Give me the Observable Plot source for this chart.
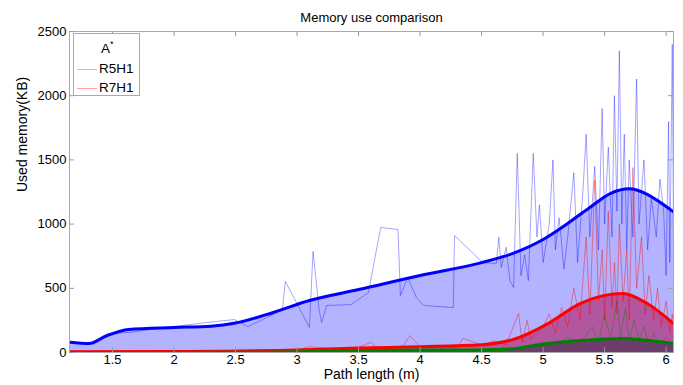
<!DOCTYPE html>
<html>
<head>
<meta charset="utf-8">
<script src="https://cdn.jsdelivr.net/npm/d3@7"></script>
<script src="https://cdn.jsdelivr.net/npm/@observablehq/plot@0.6"></script>
<style>
  html, body { margin: 0; padding: 0; background: white; }
  #wrap { position: relative; width: 683px; height: 385px; font-family: "Liberation Sans", Arial, sans-serif; }
  #legend { position: absolute; left: 73px; top: 33px; width: 65px; height: 61px; border: 1px solid #aaa; background: white; font-size: 13.5px; }
  .lg { position: absolute; left: 0; width: 100%; height: 18px; }
  .lg .sw { position: absolute; left: 3px; top: 9px; width: 20px; height: 0; border-top: 1px solid; }
  .lg .tx { position: absolute; left: 25px; top: 0; line-height: 18px; }
</style>
</head>
<body>
<div id="wrap">
  <div id="chart"></div>
  <div id="legend">
    <div class="lg" style="top:6px"><span class="tx" style="left:27px">A<sup style="font-size:9px;vertical-align:6px;line-height:0">*</sup></span></div>
    <div class="lg" style="top:26px"><span class="sw" style="border-color:#9fd89f"></span><span class="tx">R5H1</span></div>
    <div class="lg" style="top:45px"><span class="sw" style="border-color:#ff9f9f"></span><span class="tx">R7H1</span></div>
  </div>
</div>
<script>
const xTicks = [1.5, 2, 2.5, 3, 3.5, 4, 4.5, 5, 5.5, 6];
const yTicks = [0, 500, 1000, 1500, 2000, 2500];

// Smoothed curves (thick lines + filled areas)
const aStarSmoothX = [1.15, 1.31, 1.45, 1.63, 2.0, 2.3, 2.5, 2.8, 3.1, 3.5, 4.0, 4.5, 4.75, 5.0, 5.14, 5.38, 5.55, 5.7, 5.85, 5.95, 6.06];
const aStarSmoothY = [80, 70, 130, 180, 195, 205, 230, 310, 405, 490, 600, 700, 770, 880, 965, 1130, 1240, 1275, 1230, 1170, 1095];
const r7SmoothX = [1.15, 2.0, 3.0, 3.5, 4.0, 4.5, 4.77, 5.04, 5.3, 5.5, 5.65, 5.84, 6.06];
const r7SmoothY = [5, 8, 20, 35, 45, 60, 105, 225, 380, 445, 460, 385, 225];
const r5SmoothX = [1.15, 2.5, 3.0, 3.5, 4.0, 4.5, 4.77, 5.04, 5.3, 5.5, 5.65, 5.84, 6.06];
const r5SmoothY = [0, 2, 5, 15, 20, 20, 30, 70, 93, 105, 110, 95, 70];

// Raw measurements (thin lines)
const aStarRawX = [1.15, 1.31, 1.46, 1.63, 1.9, 2.27, 2.49, 2.6, 2.75, 2.88, 2.905, 3.0, 3.1, 3.13, 3.18, 3.2, 3.24, 3.35, 3.44, 3.58, 3.68, 3.82, 3.84, 3.9, 3.97, 4.03, 4.27, 4.28, 4.51, 4.62, 4.64, 4.66, 4.7, 4.73, 4.76, 4.79, 4.82, 4.85, 4.88, 4.92, 4.95, 4.97, 5.0, 5.05, 5.08, 5.1, 5.13, 5.17, 5.2, 5.25, 5.28, 5.32, 5.35, 5.38, 5.42, 5.45, 5.48, 5.5, 5.53, 5.56, 5.58, 5.6, 5.62, 5.64, 5.66, 5.68, 5.7, 5.73, 5.76, 5.78, 5.82, 5.85, 5.88, 5.92, 5.95, 5.98, 6.0, 6.02, 6.03, 6.05, 6.06];
const aStarRawY = [80, 70, 148, 156, 190, 234, 257, 202, 270, 330, 553, 380, 195, 787, 327, 234, 366, 370, 374, 467, 974, 958, 444, 584, 428, 366, 350, 911, 700, 693, 896, 662, 820, 560, 506, 1550, 600, 760, 560, 1550, 900, 1150, 700, 1000, 1500, 800, 1050, 650, 900, 1400, 700, 1200, 1700, 900, 1450, 800, 1900, 1000, 1600, 900, 2000, 1100, 2350, 1000, 1700, 800, 1500, 900, 2130, 1000, 1500, 800, 1200, 900, 1350, 1100, 600, 1800, 700, 2400, 900];
const r7RawX = [1.15, 1.5, 2.0, 2.5, 3.0, 3.1, 3.3, 3.5, 3.6, 3.65, 3.85, 3.92, 4.0, 4.3, 4.35, 4.5, 4.6, 4.7, 4.8, 4.83, 4.87, 4.9, 5.0, 5.05, 5.1, 5.15, 5.2, 5.25, 5.3, 5.35, 5.38, 5.42, 5.45, 5.48, 5.5, 5.53, 5.56, 5.58, 5.6, 5.62, 5.65, 5.68, 5.7, 5.73, 5.76, 5.8, 5.83, 5.86, 5.9, 5.93, 5.96, 6.0, 6.03, 6.05, 6.06];
const r7RawY = [5, 15, 8, 15, 20, 45, 30, 40, 80, 35, 40, 132, 40, 40, 110, 60, 90, 60, 304, 80, 250, 100, 200, 300, 150, 350, 200, 500, 250, 900, 300, 1340, 400, 800, 250, 1100, 350, 700, 300, 1000, 400, 800, 250, 1440, 500, 900, 300, 600, 250, 500, 200, 400, 150, 300, 200];
const r5RawX = [1.15, 1.8, 1.87, 1.95, 3.0, 3.5, 4.0, 4.5, 4.8, 5.0, 5.1, 5.2, 5.3, 5.4, 5.45, 5.5, 5.55, 5.6, 5.63, 5.67, 5.7, 5.74, 5.78, 5.82, 5.86, 5.9, 5.95, 6.0, 6.06];
const r5RawY = [0, 0, 12, 0, 5, 15, 20, 25, 40, 80, 50, 120, 70, 200, 80, 300, 100, 400, 120, 350, 90, 250, 100, 200, 60, 150, 50, 120, 60];

const zip = (xs, ys) => xs.map((x, i) => ({x, y: ys[i]}));
const aSm = zip(aStarSmoothX, aStarSmoothY);
const r7Sm = zip(r7SmoothX, r7SmoothY);
const r5Sm = zip(r5SmoothX, r5SmoothY);
const aRaw = zip(aStarRawX, aStarRawY);
const r7Raw = zip(r7RawX, r7RawY);
const r5Raw = zip(r5RawX, r5RawY);

const xDom = [1.15, 6.06];
const curve = "monotone-x";
const tickLenY = 2500 * 5 / 321;
const tickLenX = (xDom[1] - xDom[0]) * 5 / 604;

const chart = Plot.plot({
  width: 683,
  height: 385,
  marginLeft: 69,
  marginRight: 10,
  marginTop: 31,
  marginBottom: 33,
  x: {domain: xDom},
  y: {domain: [0, 2500]},
  style: {fontFamily: "'Liberation Sans', Arial, sans-serif", fontSize: "13px", color: "black", background: "white"},
  marks: [
    Plot.areaY(aSm, {x: "x", y: "y", fill: "#b3b3ff", curve, clip: true}),
    Plot.areaY(r7Sm, {x: "x", y: "y", fill: "#b356a0", curve, clip: true}),
    Plot.areaY(r5Sm, {x: "x", y: "y", fill: "#6e3d6e", curve, clip: true}),
    Plot.lineY(aRaw, {x: "x", y: "y", stroke: "blue", strokeOpacity: 0.45, strokeWidth: 0.8, clip: true}),
    Plot.lineY(r7Raw, {x: "x", y: "y", stroke: "red", strokeOpacity: 0.5, strokeWidth: 0.8, clip: true}),
    Plot.lineY(r5Raw, {x: "x", y: "y", stroke: "green", strokeOpacity: 0.5, strokeWidth: 0.8, clip: true}),
    Plot.lineY(aSm, {x: "x", y: "y", stroke: "blue", strokeWidth: 3, curve, clip: true}),
    Plot.lineY(r7Sm, {x: "x", y: "y", stroke: "red", strokeWidth: 3, curve, clip: true}),
    Plot.lineY(r5Sm, {x: "x", y: "y", stroke: "green", strokeWidth: 3, curve, clip: true}),
    Plot.frame({stroke: "#aaa"}),
    Plot.ruleX(xTicks, {x: d => d, y1: 0, y2: tickLenY, stroke: "#999"}),
    Plot.ruleX(xTicks, {x: d => d, y1: 2500 - tickLenY, y2: 2500, stroke: "#999"}),
    Plot.ruleY(yTicks, {y: d => d, x1: xDom[0], x2: xDom[0] + tickLenX, stroke: "#999"}),
    Plot.ruleY(yTicks, {y: d => d, x1: xDom[1] - tickLenX, x2: xDom[1], stroke: "#999"}),
    Plot.axisX({ticks: xTicks, tickSize: 0, tickPadding: 2, tickFormat: d => String(d), label: null}),
    Plot.axisY({ticks: yTicks, tickSize: 0, tickPadding: 3, tickFormat: d => String(d), label: null}),
    Plot.text(["Memory use comparison"], {frameAnchor: "top", dy: -19, fontSize: 13}),
    Plot.text(["Path length (m)"], {frameAnchor: "bottom", dy: 26, fontSize: 14}),
    Plot.text(["Used memory(KB)"], {frameAnchor: "left", dx: -47, rotate: -90, fontSize: 14})
  ]
});
document.getElementById("chart").appendChild(chart);
</script>
</body>
</html>
